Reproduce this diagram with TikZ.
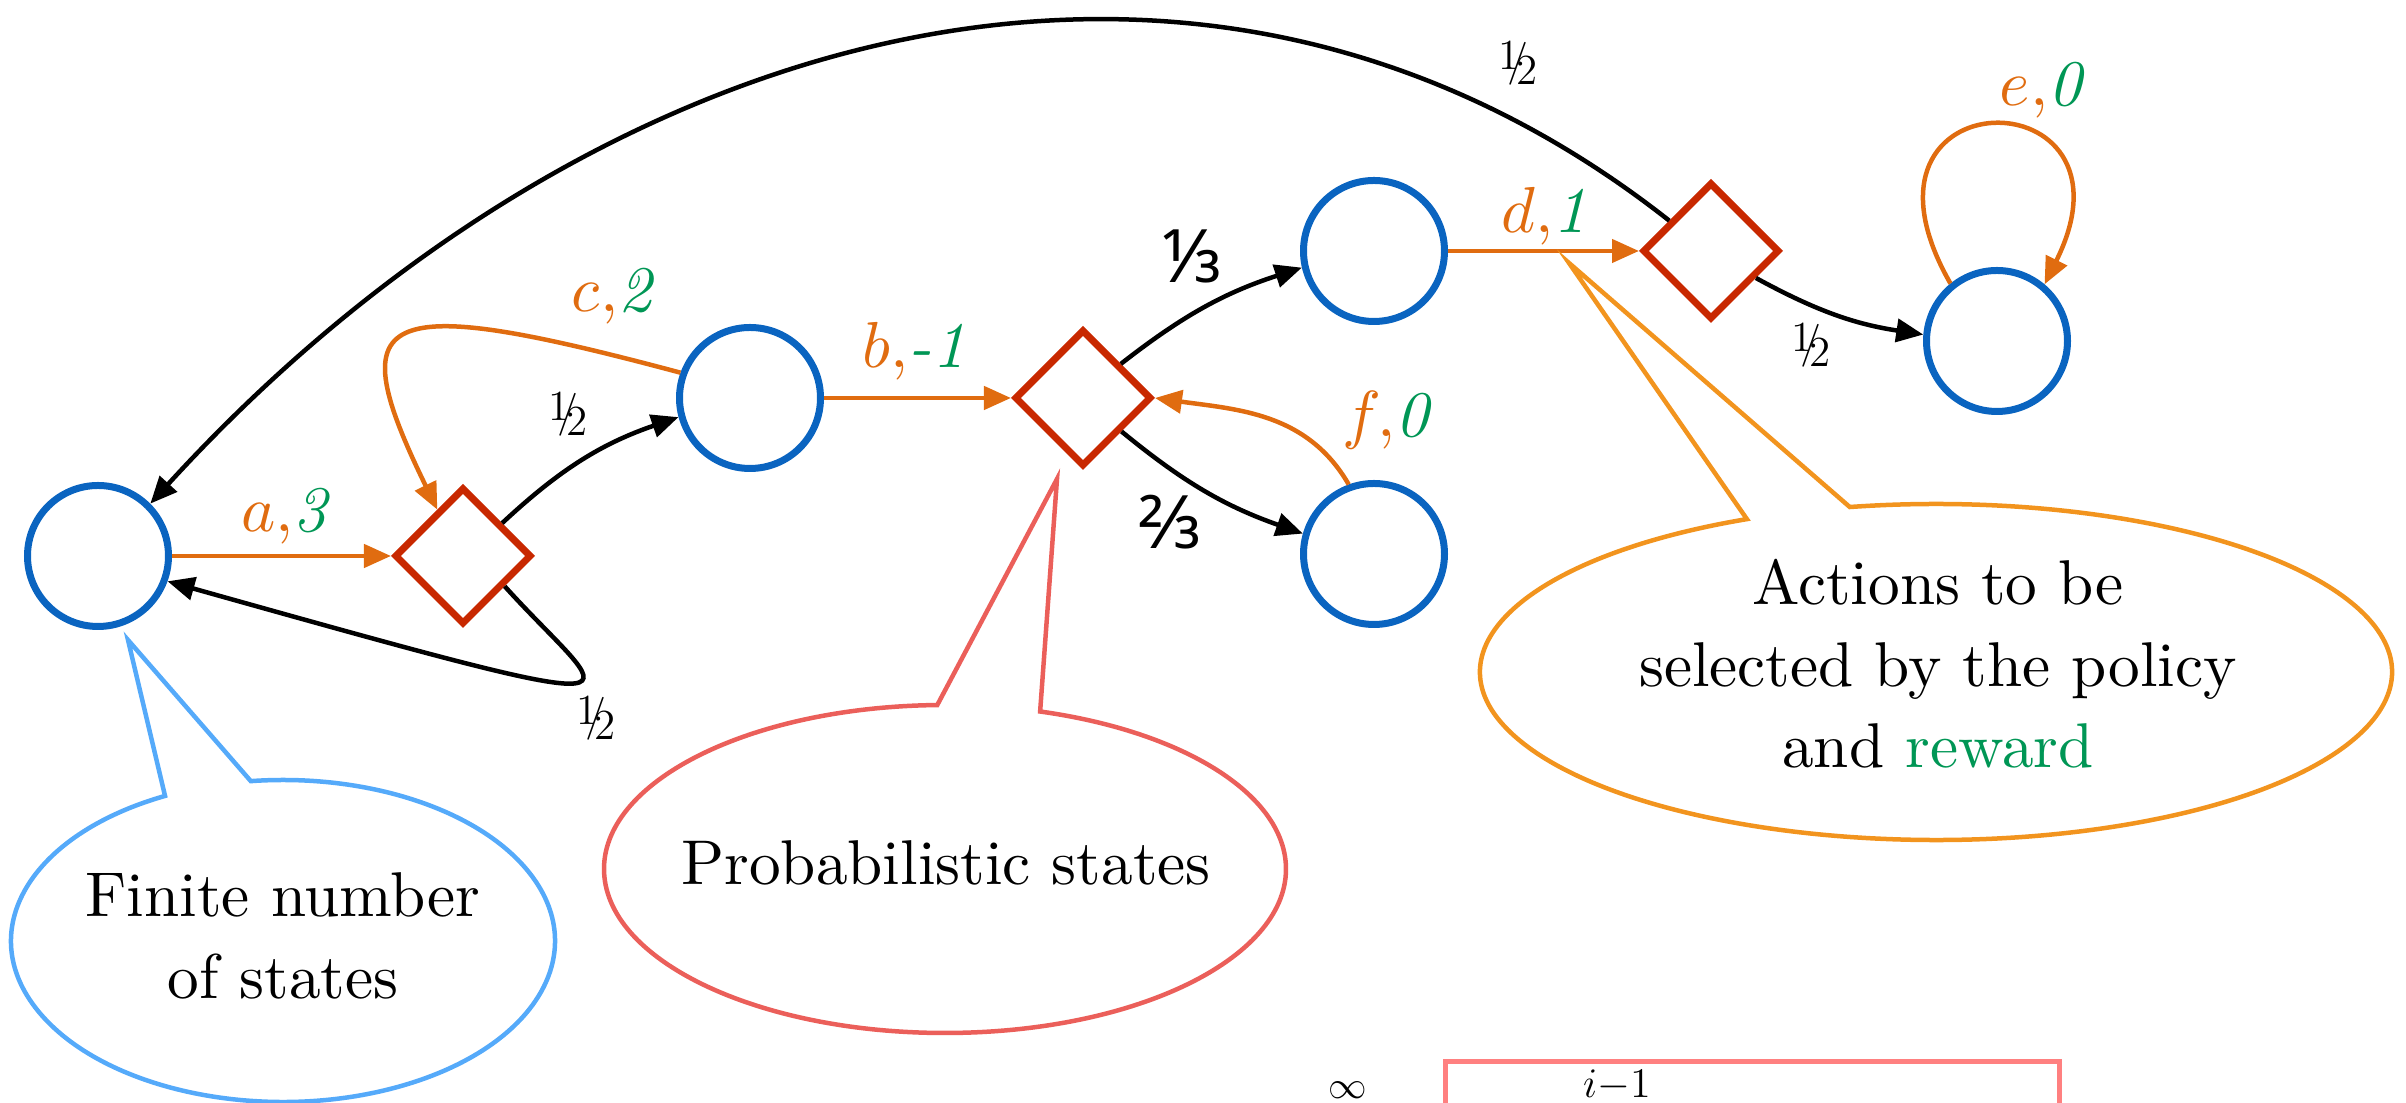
\documentclass[tikz,border=0pt]{standalone}
\usepackage{fontspec}
\usepackage{graphicx}
\newfontfamily\fracsans{Noto Sans}
\usetikzlibrary{shapes.geometric,arrows.meta,calc}
\definecolor{nblue}{RGB}{10,100,192}
\definecolor{dred}{RGB}{200,40,0}
\definecolor{aorange}{RGB}{224,108,16}
\definecolor{rgreen}{RGB}{0,150,85}
\definecolor{cblue}{RGB}{85,170,250}
\definecolor{cred}{RGB}{235,95,90}
\definecolor{corange}{RGB}{242,148,30}
\definecolor{cpink}{RGB}{255,128,128}
\newcommand{\bigtxt}[1]{\scalebox{1.8}{\fontsize{10}{12.9}\selectfont\begin{tabular}{@{}c@{}}#1\end{tabular}}}
\newcommand{\actlbl}[2]{\scalebox{1.85}{\fontsize{10}{12}\selectfont{\color{aorange}$#1,$}{\color{rgreen}\textit{#2}}}}
\newcommand{\halfl}{{\fontsize{12.2}{14}\selectfont\raisebox{0.36em}{1}\kern-0.27em\raisebox{0.25em}{/}\kern-0.28em 2}}
\newcommand{\thirdl}[1]{{\fontsize{21}{22}\selectfont\fracsans #1}}
\begin{document}
\begin{tikzpicture}[
  state/.style={circle,draw=nblue,line width=0.07cm,minimum size=1.41cm,inner sep=0pt},
  chance/.style={diamond,aspect=1,draw=dred,line width=0.07cm,minimum width=1.37cm,minimum height=1.37cm,inner sep=0pt},
  act/.style={draw=aorange,line width=0.045cm,-{Triangle[length=0.27cm,width=0.23cm]}},
  prob/.style={draw=black,line width=0.045cm,-{Triangle[length=0.27cm,width=0.23cm]}},
  callout/.style={line width=0.045cm},
  lbl/.style={inner sep=0pt}
]
\clip (0,0) rectangle (24.06,11.03);
\useasboundingbox (0,0) rectangle (24.06,11.03);

% states and chance nodes
\node[state] (S0) at (0.98,5.47) {};
\node[chance] (D1) at (4.63,5.47) {};
\node[state] (S1) at (7.50,7.05) {};
\node[chance] (D2) at (10.83,7.05) {};
\node[state] (S2) at (13.74,8.52) {};
\node[state] (S3) at (13.74,5.49) {};
\node[chance] (D3) at (17.11,8.52) {};
\node[state] (S4) at (19.97,7.62) {};

% action arrows
\draw[act] (S0) -- (D1);
\draw[act] (S1) -- (D2);
\draw[act] (S2) -- (D3);
\draw[act] (S1.160) .. controls +(165:3.2) and +(116:2.2) .. (D1.119);
\draw[act] (S3.110) to[out=120,in=-8] (D2.east);
\draw[act] (S4.129) .. controls (18.3,10.3) and (21.5,10.3) .. (S4.50);

% probabilistic arrows
\draw[prob] (D1.40) to[bend left=12] (S1.195);
\draw[prob] (D1.-36) .. controls (6.1,4.0) and (6.9,3.75) .. (S0.-20);
\draw[prob] (D2.42) to[bend left=10] (S2.193);
\draw[prob] (D2.-41) to[bend right=10] (S3.164);
\draw[prob] (D3.-31) to[bend right=10] (S4.175);
\draw[prob] (D3.144) .. controls (11.9,12.6) and (5.8,10.7) .. (S0.45);

% action labels
\node[lbl] (la) at (2.86,5.87) {\actlbl{a}{3}};
\node[lbl] (lc) at (6.13,8.07) {\actlbl{c}{2}};
\node[lbl] (lb) at (9.14,7.52) {\actlbl{b}{-1}};
\node[lbl] (ld) at (15.44,8.87) {\actlbl{d}{1}};
\node[lbl] (le) at (20.42,10.13) {\actlbl{e}{0}};
\node[lbl] (lf) at (13.87,6.83) {\actlbl{f}{0}};

% probability labels
\node[lbl] (p1) at (5.68,6.89) {\halfl};
\node[lbl] (p2) at (5.96,3.85) {\halfl};
\node[lbl] (p3) at (11.93,8.47) {\thirdl{⅓}};
\node[lbl] (p4) at (11.72,5.81) {\thirdl{⅔}};
\node[lbl] (p5) at (18.11,7.58) {\halfl};
\node[lbl] (p6) at (15.18,10.40) {\halfl};

% callouts
\coordinate (tipB) at (1.28,4.63);
\coordinate (cB) at (2.83,1.62);
\draw[callout,draw=cblue] (tipB) -- ($(cB)+(115.7:2.72cm and 1.61cm)$)
  arc[start angle=115.7,end angle=456.8,x radius=2.72cm,y radius=1.61cm] -- cycle;
\node[lbl] (tB) at (2.83,1.62) {\bigtxt{Finite number\\of states}};

\coordinate (tipR) at (10.57,6.24);
\coordinate (cR) at (9.45,2.34);
\draw[callout,draw=cred] (tipR) -- ($(cR)+(91.3:3.41cm and 1.64cm)$)
  arc[start angle=91.3,end angle=433.8,x radius=3.41cm,y radius=1.64cm] -- cycle;
\node[lbl] (tR) at (9.46,2.35) {\bigtxt{Probabilistic states}};

\coordinate (tipO) at (15.69,8.40);
\coordinate (cO) at (19.36,4.31);
\draw[callout,draw=corange] (tipO) -- ($(cO)+(114.5:4.56cm and 1.68cm)$)
  arc[start angle=114.5,end angle=460.9,x radius=4.56cm,y radius=1.68cm] -- cycle;
\node[lbl] (tO) at (19.38,4.33) {\bigtxt{Actions to be\\selected by the policy\\and {\color{rgreen}reward}}};

% cut-off formula at the bottom
\draw[line width=0.05cm,draw=cpink] (14.45,-0.5) rectangle (20.59,0.41);
\node[lbl] (inf) at (13.48,0.13) {\fontsize{10.5}{12}\selectfont$\infty$};
\node[lbl] (im1) at (16.17,0.18) {\fontsize{11.5}{13}\selectfont$i{-}1$};
\end{tikzpicture}
\end{document}
